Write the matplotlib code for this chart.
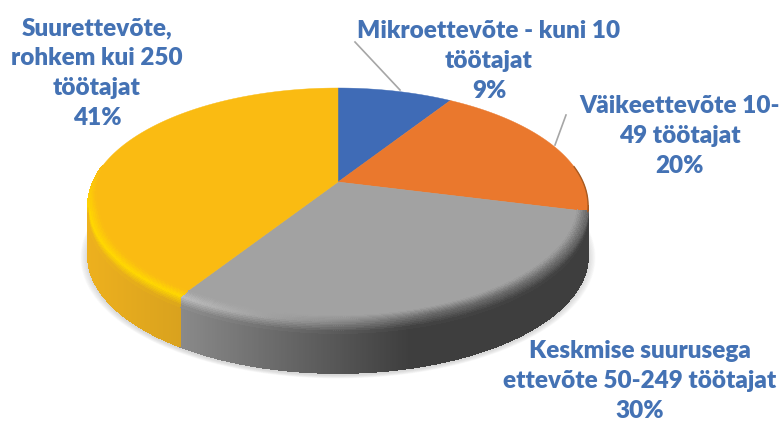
#!/usr/bin/env python3
"""
Tilted 3D style pie chart of companies by size.
"""

import numpy as np
import matplotlib
matplotlib.use('Agg')
import matplotlib.pyplot as plt
from matplotlib.collections import PolyCollection
from matplotlib.colors import to_rgb

# Data
labels = [
    'Mikroettevõte - kuni 10\ntöötajat\n9%',
    'Väikeettevõte 10-\n49 töötajat\n20%',
    'Keskmise suurusega\nettevõte 50-249 töötajat\n30%',
    'Suurettevõte,\nrohkem kui 250\ntöötajat\n41%',
]
values = [9, 20, 30, 41]
top_colors = ['#3F6BB6', '#EA782D', '#A2A2A2', '#FABB12']
wall_left = ['#2F5597', '#8A4A1E', '#8A8A8A', '#EDB01E']
wall_right = ['#2F5597', '#8A4A1E', '#3E3E3E', '#D9A21E']
rim_left = ['#3F6BB6', '#EA782D', '#BDBDBD', '#FFD800']
rim_right = ['#3F6BB6', '#EA782D', '#6A6A6A', '#FFD800']

label_xy = [(489, 61), (680, 136), (640, 381), (97, 73)]
leaders = [((355, 42), (400, 90)), ((566, 115), (555, 145))]

# Pixel geometry of the tilted disc
CX, CY = 338, 182
RX = 245
SLOPE = -76.4
PERSP = 0.2
DEPTH = 50
TEXT_COLOR = '#4472B4'


def project(theta, r=1.0):
    u = r * np.cos(theta)
    v = r * np.sin(theta)
    w = 1 + PERSP * v
    return CX + RX * u / w, (CY + SLOPE * v) / w


def mix(c1, c2, t):
    return tuple(np.array(c1) * (1 - t) + np.array(c2) * t)


def wall_color(i, x):
    if i == 2:
        f = np.clip((x - 180) / 230, 0, 1)
    else:
        f = np.clip((x - 87) / 93, 0, 1)
    return mix(to_rgb(wall_left[i]), to_rgb(wall_right[i]), f)


def main():
    fig = plt.figure(figsize=(7.81, 4.23), dpi=100)
    ax = fig.add_axes([0, 0, 1, 1])
    ax.set_xlim(0, 781)
    ax.set_ylim(423, 0)
    ax.axis('off')

    edges = np.radians(90 - 3.6 * np.concatenate([[0], np.cumsum(values)]))

    # Soft shadow under the disc
    t = np.linspace(0, 2 * np.pi, 361)
    for i in range(12):
        scale = 1.03 - i * 0.0025
        x, y = project(t)
        x = CX + (x - CX) * scale
        y = 206 + (y - 206) * scale + DEPTH + 2
        ax.fill(x, y, color='#606060', alpha=0.018, lw=0, zorder=1)

    # Side wall, drawn in thin strips so it can shade along the rim
    polys, cols = [], []
    for i in range(len(values)):
        n = max(int(abs(edges[i + 1] - edges[i]) * 150), 2)
        tt = np.linspace(edges[i], edges[i + 1], n + 1)
        x, y = project(tt)
        for j in range(n):
            # back half of the rim is hidden behind the top face
            if np.sin(0.5 * (tt[j] + tt[j + 1])) > -PERSP:
                continue
            polys.append([(x[j], y[j]), (x[j + 1], y[j + 1]),
                          (x[j + 1], y[j + 1] + DEPTH), (x[j], y[j] + DEPTH)])
            cols.append(wall_color(i, x[j]))
    ax.add_collection(PolyCollection(polys, facecolors=cols, edgecolors=cols,
                                     lw=0.6, antialiaseds=False, zorder=2))

    # Top face of each wedge
    for i in range(len(values)):
        tt = np.linspace(edges[i], edges[i + 1], 200)
        x, y = project(tt)
        ax.fill(np.r_[CX, x], np.r_[CY, y], color=top_colors[i], lw=0.3, zorder=3)

    # Bevel between top face and wall, only on gray and yellow where it faces the viewer
    polys, cols = [], []
    levels = np.linspace(-1, 1, 13)
    for i in (2, 3):
        n = max(int(abs(edges[i + 1] - edges[i]) * 150), 2)
        tt = np.linspace(edges[i], edges[i + 1], n + 1)
        for j in range(n):
            mid = 0.5 * (tt[j] + tt[j + 1])
            strength = np.clip((0.15 - np.sin(mid)) / 0.4, 0, 1)
            if strength <= 0:
                continue
            xm = project(mid)[0]
            f = np.clip((xm - 180) / 250, 0, 1) if i == 2 else 0
            rim = mix(to_rgb(rim_left[i]), to_rgb(rim_right[i]), f)
            wall = wall_color(i, xm)
            front = np.sin(mid) < -PERSP
            for a, b in zip(levels[:-1], levels[1:]):
                if b > 0 and not front:
                    continue
                ra, rb = 1 + 0.04 * min(a, 0) * strength, 1 + 0.04 * min(b, 0) * strength
                oa, ob = 10 * max(a, 0), 10 * max(b, 0)
                x0, y0 = project(tt[j], ra)
                x1, y1 = project(tt[j + 1], ra)
                x2, y2 = project(tt[j + 1], rb)
                x3, y3 = project(tt[j], rb)
                polys.append([(x0, y0 + oa), (x1, y1 + oa), (x2, y2 + ob), (x3, y3 + ob)])
                c = 0.5 * (a + b)
                if c < 0:
                    col = mix(to_rgb(top_colors[i]), rim, (c + 1) * strength)
                else:
                    col = mix(rim, wall, c)
                cols.append(col)
    ax.add_collection(PolyCollection(polys, facecolors=cols, edgecolors=cols,
                                     lw=0.5, antialiaseds=False, zorder=4))

    # Dark thin edge at the right end of the orange wedge
    tt = np.linspace(np.radians(8), edges[2], 40)
    x, y = project(tt)
    ax.plot(x, y, color='#A85A20', lw=1.0, zorder=4)

    # Leader lines and labels
    for (x0, y0), (x1, y1) in leaders:
        ax.plot([x0, x1], [y0, y1], color='#A6A6A6', lw=1.2, zorder=5)
    for text, (x, y) in zip(labels, label_xy):
        ax.text(x, y, text, color=TEXT_COLOR, family='Lato', fontweight='heavy',
                fontsize=17.5, ha='center', va='center', linespacing=1.45, zorder=6)

    fig.savefig('out.png', dpi=100)


if __name__ == "__main__":
    main()
